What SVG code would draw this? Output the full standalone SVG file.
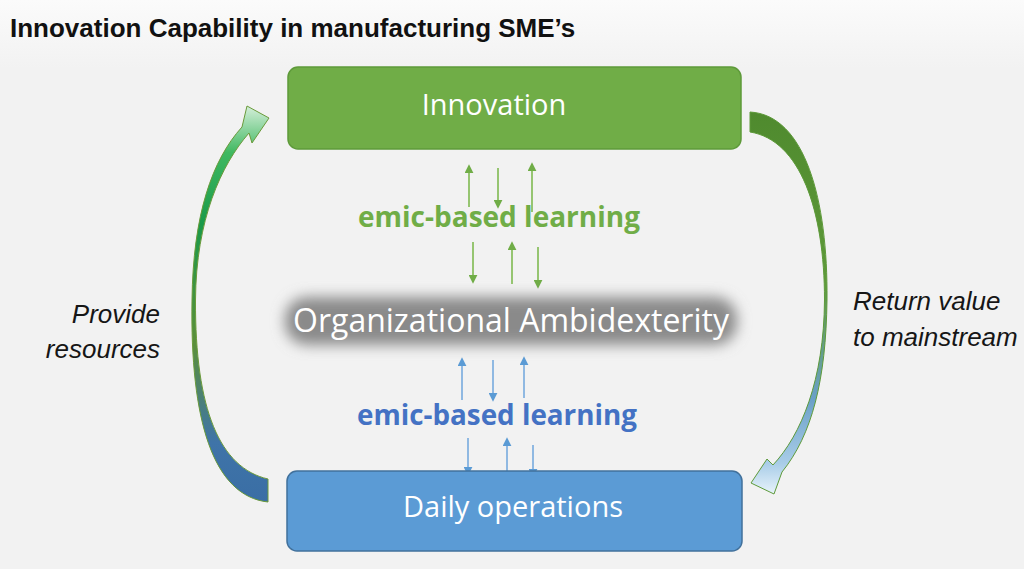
<svg xmlns="http://www.w3.org/2000/svg" width="1024" height="569" viewBox="0 0 1024 569">
<defs>
<style>
.title{font-family:"Liberation Sans",Arial,sans-serif;font-weight:bold;font-size:26px;fill:#111}
.box{font-family:"Open Sans","DejaVu Sans",sans-serif;fill:#fff;text-anchor:middle}
.lbl{font-family:"Liberation Sans",Arial,sans-serif;font-style:italic;font-size:26px;fill:#161616}
.emic{font-family:"Open Sans","DejaVu Sans",sans-serif;font-weight:bold;font-size:28px;text-anchor:middle}
.g{stroke:#8cc063;stroke-width:1.8;fill:none}
.b{stroke:#85b3e0;stroke-width:1.8;fill:none}
</style>
<linearGradient id="bg" x1="0" y1="0" x2="0" y2="1">
<stop offset="0" stop-color="#fbfbfb"/><stop offset="0.12" stop-color="#f2f2f2"/><stop offset="1" stop-color="#f2f2f2"/>
</linearGradient>
<linearGradient id="lg" x1="0" y1="105" x2="0" y2="502" gradientUnits="userSpaceOnUse">
<stop offset="0" stop-color="#d8f0dc"/><stop offset="0.12" stop-color="#3fb860"/><stop offset="0.3" stop-color="#1a9a4a"/><stop offset="0.6" stop-color="#5a8f3a"/><stop offset="0.85" stop-color="#3f74a8"/><stop offset="1" stop-color="#3a6ea5"/>
</linearGradient>
<linearGradient id="rg" x1="0" y1="112" x2="0" y2="494" gradientUnits="userSpaceOnUse">
<stop offset="0" stop-color="#4f8a2e"/><stop offset="0.45" stop-color="#5e9a3a"/><stop offset="0.75" stop-color="#6aa0c8"/><stop offset="0.92" stop-color="#a9cde8"/><stop offset="1" stop-color="#e8f3fb"/>
</linearGradient>
<filter id="blur" x="-20%" y="-80%" width="140%" height="260%"><feGaussianBlur stdDeviation="7"/></filter>
<marker id="mg" viewBox="0 0 10 10" refX="8" refY="5" markerWidth="5" markerHeight="5" orient="auto-start-reverse"><path d="M0,0 L10,5 L0,10 Z" fill="#70ad47"/></marker>
<marker id="mb" viewBox="0 0 10 10" refX="8" refY="5" markerWidth="5" markerHeight="5" orient="auto-start-reverse"><path d="M0,0 L10,5 L0,10 Z" fill="#5b9bd5"/></marker>
</defs>
<rect width="1024" height="569" fill="url(#bg)"/>
<text class="title" x="10" y="37">Innovation Capability in manufacturing SME’s</text>

<g id="connectors">
<path d="M268,502 C213,496 190,420 192,300 C193,215 212,160 242,127 L247,106 L269,118 L252,143 L249,133 C221,165 196,220 195.5,300 C195,410 220,468 268,479 Z" fill="url(#lg)" stroke="#6a9a3a" stroke-width="1"/>
<path d="M750,112 C805,115 828,200 827,300 C826,380 812,435 782,472 L774,494 L751,483 L767,459 L773,465 C801,435 824,380 824.5,300 C824.5,210 800,140 750,132 Z" fill="url(#rg)" stroke="#5e9a3a" stroke-width="1"/>
<line class="g" x1="469" y1="207" x2="469" y2="166" marker-end="url(#mg)"/>
<line class="g" x1="498" y1="168" x2="498" y2="207" marker-end="url(#mg)"/>
<line class="g" x1="532" y1="212" x2="532" y2="164" marker-end="url(#mg)"/>
<line class="g" x1="473" y1="242" x2="473" y2="282" marker-end="url(#mg)"/>
<line class="g" x1="512" y1="284" x2="512" y2="243" marker-end="url(#mg)"/>
<line class="g" x1="538" y1="247" x2="538" y2="287" marker-end="url(#mg)"/>
<line class="b" x1="462" y1="400" x2="462" y2="359" marker-end="url(#mb)"/>
<line class="b" x1="493" y1="360" x2="493" y2="400" marker-end="url(#mb)"/>
<line class="b" x1="524" y1="398" x2="524" y2="358" marker-end="url(#mb)"/>
<line class="b" x1="468" y1="438" x2="468" y2="474" marker-end="url(#mb)"/>
<line class="b" x1="507" y1="472" x2="507" y2="439" marker-end="url(#mb)"/>
<line class="b" x1="533" y1="445" x2="533" y2="476" marker-end="url(#mb)"/>
</g>

<text class="emic" x="499" y="227" fill="#70ad47" textLength="282" lengthAdjust="spacingAndGlyphs">emic-based learning</text>
<text class="emic" x="497" y="425" fill="#4472c4" textLength="280" lengthAdjust="spacingAndGlyphs">emic-based learning</text>

<g id="innovation">
<rect x="288" y="67" width="453" height="82" rx="10" fill="#70ad47" stroke="#5e9a3a" stroke-width="1.5"/>
<text class="box" x="494" y="115" font-size="29">Innovation</text>
</g>
<g id="daily">
<rect x="287" y="471" width="455" height="80" rx="10" fill="#5b9bd5" stroke="#41719c" stroke-width="1.5"/>
<text class="box" x="513" y="517" font-size="29">Daily operations</text>
</g>
<g id="ambidexterity">
<rect x="285" y="297" width="452" height="48" rx="22" fill="#8a8a8a" filter="url(#blur)"/>
<text class="box" x="511" y="332" font-size="32">Organizational Ambidexterity</text>
</g>
<g id="labels">
<text class="lbl" x="160" y="323" text-anchor="end">Provide</text>
<text class="lbl" x="160" y="358" text-anchor="end">resources</text>
<text class="lbl" x="853" y="310">Return value</text>
<text class="lbl" x="853" y="346">to mainstream</text>
</g>
</svg>
